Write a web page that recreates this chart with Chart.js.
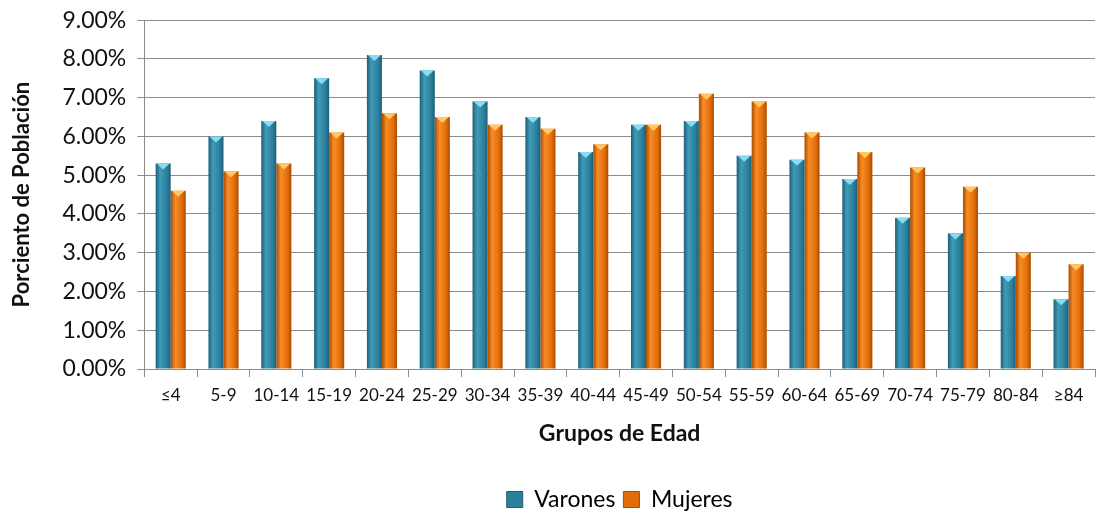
<!DOCTYPE html>
<html>
<head>
<meta charset="utf-8">
<script src="https://cdn.jsdelivr.net/npm/chart.js@4/dist/chart.umd.min.js"></script>
<style>
  html, body { margin: 0; padding: 0; background: #fff; }
  #wrap { width: 1099px; height: 521px; position: relative; }
</style>
</head>
<body>
<div id="wrap"><canvas id="bars"></canvas></div>
<script>
// age groups and percentages
var grupos = ['≤4','5-9','10-14','15-19','20-24','25-29','30-34','35-39','40-44','45-49','50-54','55-59','60-64','65-69','70-74','75-79','80-84','≥84'];
var varones = [5.3, 6.0, 6.4, 7.5, 8.1, 7.7, 6.9, 6.5, 5.6, 6.3, 6.4, 5.5, 5.4, 4.9, 3.9, 3.5, 2.4, 1.8];
var mujeres = [4.6, 5.1, 5.3, 6.1, 6.6, 6.5, 6.3, 6.2, 5.8, 6.3, 7.1, 6.9, 6.1, 5.6, 5.2, 4.7, 3.0, 2.7];
var yTicks = [0, 1, 2, 3, 4, 5, 6, 7, 8, 9];

var teal = ['#1d5f77', '#3f9bb9', '#2c7f9b'];
var orange = ['#a94b00', '#f98d25', '#e26d0a'];
var tealTop = '#86dcf2';
var orangeTop = '#ffc864';

var fontFam = 'Lato, "Open Sans", sans-serif';

// horizontal gradient per bar so it looks like the bevelled Excel bars
function barFill(cols) {
    return function(c) {
        var el = c.element;
        if (!el || el.width == null || isNaN(el.x)) return cols[2];
        var x0 = el.x - el.width / 2, x1 = el.x + el.width / 2;
        var g = c.chart.ctx.createLinearGradient(x0, 0, x1, 0);
        g.addColorStop(0, cols[0]);
        g.addColorStop(0.3, cols[1]);
        g.addColorStop(0.75, cols[2]);
        g.addColorStop(1, cols[0]);
        return g;
    };
}

// little light triangle on top of each bar
var bevelTop = {
    id: 'bevelTop',
    afterDatasetsDraw: function(chart) {
        var ctx = chart.ctx;
        chart.data.datasets.forEach(function(ds, i) {
            var meta = chart.getDatasetMeta(i);
            ctx.save();
            ctx.fillStyle = ds.topColor;
            meta.data.forEach(function(bar) {
                var w = bar.width;
                ctx.beginPath();
                ctx.moveTo(bar.x - w / 2 + 1, bar.y);
                ctx.lineTo(bar.x + w / 2 - 1, bar.y);
                ctx.lineTo(bar.x, bar.y + w * 0.4);
                ctx.closePath();
                ctx.fill();
            });
            ctx.restore();
        });
    }
};

var ctx = document.getElementById('bars').getContext('2d');
var myChart = new Chart(ctx, {
    type: 'bar',
    data: {
        labels: grupos,
        datasets: [{
            label: 'Varones',
            data: varones,
            backgroundColor: barFill(teal),
            topColor: tealTop,
            borderWidth: 0,
            barPercentage: 1.0,
            categoryPercentage: 0.57
        }, {
            label: 'Mujeres',
            data: mujeres,
            backgroundColor: barFill(orange),
            topColor: orangeTop,
            borderWidth: 0,
            barPercentage: 1.0,
            categoryPercentage: 0.57
        }]
    },
    plugins: [bevelTop],
    options: {
        responsive: true,
        maintainAspectRatio: false,
        animation: false,
        layout: { padding: { top: 0, right: 4, left: 9, bottom: 0 } },
        plugins: {
            legend: {
                position: 'bottom',
                fullSize: false,
                labels: {
                    font: { family: fontFam, size: 23 },
                    color: '#222',
                    boxWidth: 16,
                    boxHeight: 16,
                    padding: 8,
                    generateLabels: function(chart) {
                        return chart.data.datasets.map(function(ds, i) {
                            return {
                                text: ds.label,
                                fillStyle: i == 0 ? teal[2] : orange[2],
                                strokeStyle: i == 0 ? teal[0] : orange[0],
                                lineWidth: 1,
                                datasetIndex: i
                            };
                        });
                    }
                }
            },
            tooltip: { enabled: false }
        },
        scales: {
            x: {
                grid: {
                    drawOnChartArea: false,
                    drawTicks: true,
                    tickLength: 8,
                    color: '#8c8c8c'
                },
                border: { color: '#8c8c8c', width: 1 },
                ticks: {
                    font: { family: fontFam, size: 17 },
                    color: '#111',
                    maxRotation: 0,
                    autoSkip: false,
                    padding: 8
                },
                title: {
                    display: true,
                    text: 'Grupos de Edad',
                    font: { family: fontFam, size: 23, weight: 'bold' },
                    color: '#111',
                    padding: { top: 6, bottom: 33 }
                }
            },
            y: {
                min: 0,
                max: 9,
                afterBuildTicks: function(axis) {
                    axis.ticks = yTicks.map(function(v) { return { value: v }; });
                },
                grid: {
                    color: '#8c8c8c',
                    lineWidth: 1,
                    tickLength: 7
                },
                border: { color: '#8c8c8c', width: 1 },
                ticks: {
                    font: { family: fontFam, size: 23, lineHeight: 0.8 },
                    color: '#111',
                    padding: 11,
                    callback: function(v) { return v.toFixed(2) + '%'; }
                },
                title: {
                    display: true,
                    text: 'Porciento de Población',
                    font: { family: fontFam, size: 22, weight: 'bold' },
                    color: '#111',
                    padding: { top: 0, bottom: 16 }
                }
            }
        }
    }
});
// second pass so the gradients can use the bar positions
myChart.update();
</script>
</body>
</html>
